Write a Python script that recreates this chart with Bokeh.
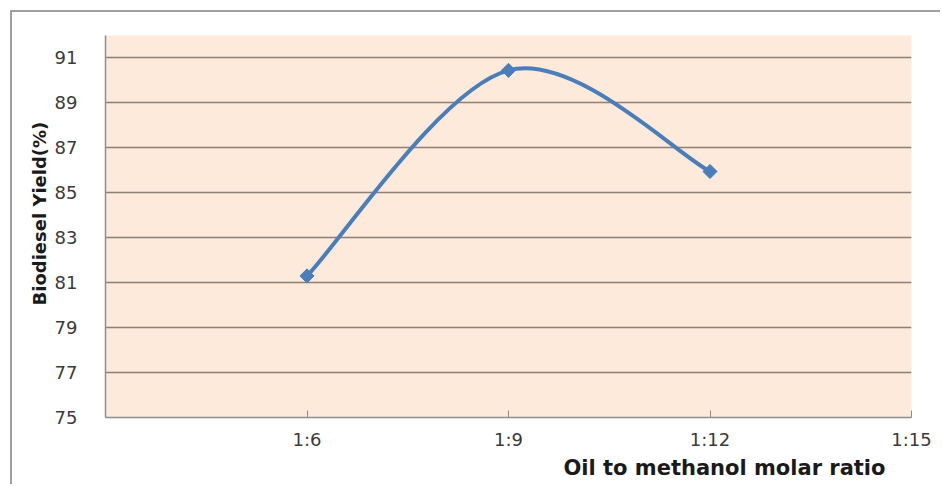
import math
from bokeh.plotting import figure
from bokeh.models import FixedTicker, Range1d, Title
from bokeh.embed import file_html
from bokeh.resources import INLINE

# ---- data ----
ratio_values = [6, 9, 12]
ratio_labels = ["1:6", "1:9", "1:12"]
yield_pct = [81.3, 90.45, 85.95]

x_tick_values = [6, 9, 12, 15]
x_tick_labels = ["1:6", "1:9", "1:12", "1:15"]
y_tick_values = [75, 77, 79, 81, 83, 85, 87, 89, 91]

x_title = "Oil to methanol molar ratio"
y_title = "Biodiesel Yield(%)"

LINE = "#4A7EBB"
GRID = "#8C8077"
AXIS = "#8E8E8E"
TICKTXT = "#3A3A3A"
FONT = "DejaVu Sans"

p = figure(width=930, height=474, output_backend="svg", toolbar_location=None,
           x_range=Range1d(3, 15), y_range=Range1d(75, 92),
           min_border_left=93, min_border_right=31, min_border_top=23, min_border_bottom=69)
p.styles = {"border-top": "2px solid #a0a0a0", "border-left": "2px solid #a0a0a0",
            "margin-left": "10px", "margin-top": "10px"}

p.background_fill_color = "#FDEADA"
p.border_fill_color = "white"
p.outline_line_color = None

# smoothed line (Catmull-Rom style bezier control points computed from data)
n = len(ratio_values)
x0, y0, x1, y1, cx0, cy0, cx1, cy1 = [], [], [], [], [], [], [], []
for i in range(n - 1):
    pm = max(i - 1, 0)
    pp = min(i + 2, n - 1)
    xa, ya = ratio_values[i], yield_pct[i]
    xb, yb = ratio_values[i + 1], yield_pct[i + 1]
    x0.append(xa); y0.append(ya); x1.append(xb); y1.append(yb)
    cx0.append(xa + (xb - ratio_values[pm]) / 6.0)
    cy0.append(ya + (yb - yield_pct[pm]) / 6.0)
    cx1.append(xb - (ratio_values[pp] - xa) / 6.0)
    cy1.append(yb - (yield_pct[pp] - ya) / 6.0)

p.bezier(x0=x0, y0=y0, x1=x1, y1=y1, cx0=cx0, cy0=cy0, cx1=cx1, cy1=cy1,
         line_color=LINE, line_width=4)
p.scatter(ratio_values, yield_pct, marker="square", size=10, angle=math.pi / 4,
          fill_color=LINE, line_color=LINE)

# axes
p.xaxis.ticker = FixedTicker(ticks=x_tick_values)
p.xaxis.major_label_overrides = {v: l for v, l in zip(x_tick_values, x_tick_labels)}
p.yaxis.ticker = FixedTicker(ticks=y_tick_values)

for ax in (p.xaxis, p.yaxis):
    ax.axis_line_color = AXIS
    ax.axis_line_width = 1.5
    ax.minor_tick_line_color = None
    ax.major_label_text_font = FONT
    ax.major_label_text_font_size = "18px"
    ax.major_label_text_color = TICKTXT

p.xaxis.major_tick_in = 7
p.xaxis.major_tick_out = 0
p.xaxis.major_tick_line_color = AXIS
p.xaxis.major_label_standoff = 11
p.yaxis.major_tick_line_color = None
p.yaxis.major_label_standoff = 22

p.xgrid.grid_line_color = None
p.ygrid.grid_line_color = GRID
p.ygrid.grid_line_width = 1.5

# axis titles, positioned as in the reference
xt = Title(text=x_title, align="right", offset=26, text_font=FONT,
           text_font_size="21px", text_font_style="bold", text_color="#1a1a1a", standoff=2)
p.add_layout(xt, "below")
yt = Title(text=y_title, align="left", offset=112, text_font=FONT,
           text_font_size="18px", text_font_style="bold", text_color="#1a1a1a", standoff=4)
p.add_layout(yt, "left")

open("out.html", "w").write(file_html(p, INLINE))
